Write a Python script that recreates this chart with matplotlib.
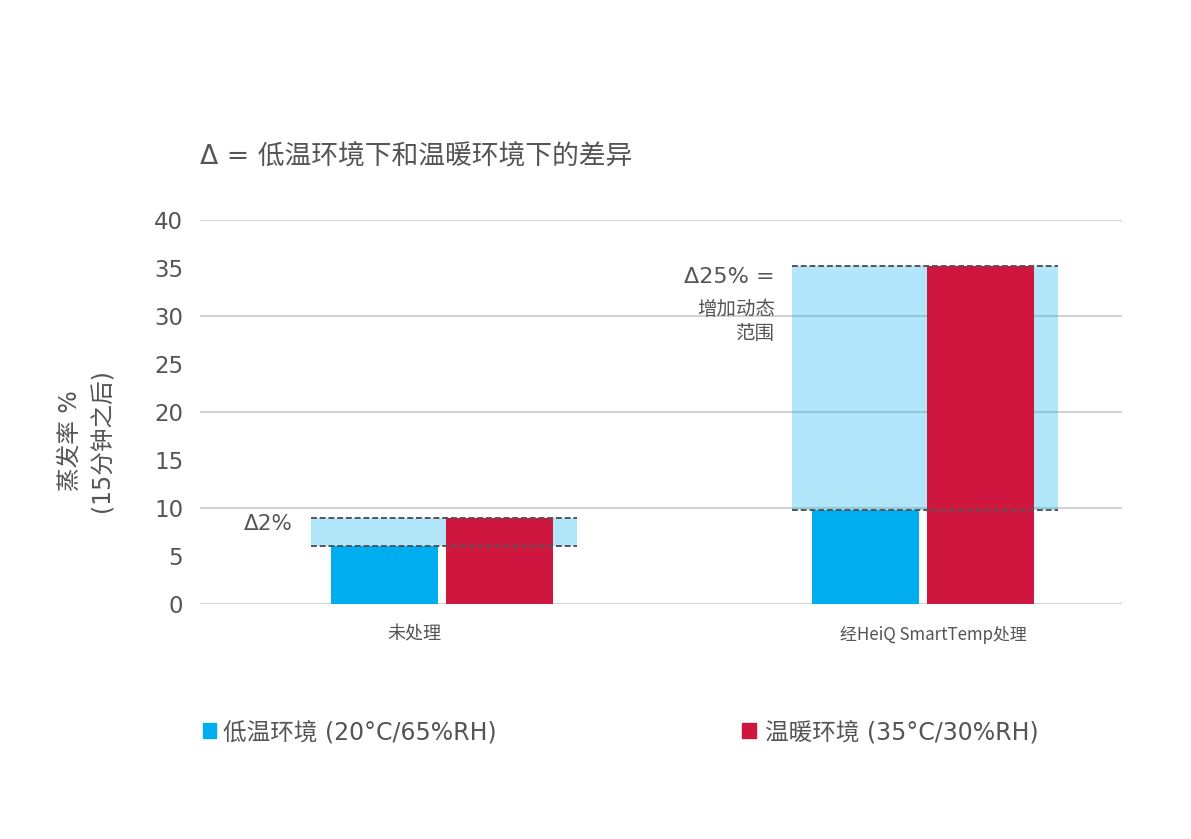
import matplotlib
matplotlib.use("Agg")
import matplotlib.pyplot as plt
from matplotlib.patches import Rectangle

plt.rcParams['font.family'] = ['DejaVu Sans', 'Noto Sans CJK SC']

# data
categories = ['未处理', '经HeiQ SmartTemp处理']
cool_vals = [6.0, 9.8]     # 低温环境 (20°C/65%RH)
warm_vals = [9.0, 35.2]    # 温暖环境 (35°C/30%RH)
series_names = ['低温环境 (20°C/65%RH)', '温暖环境 (35°C/30%RH)']
delta_labels = ['Δ2%', 'Δ25% =']
yticks = [0, 5, 10, 15, 20, 25, 30, 35, 40]

blue = '#00aeef'
red = '#cf163f'
grey = '#555555'

fig = plt.figure(figsize=(11.91, 8.39), dpi=100)
ax = fig.add_axes([0.1679, 0.2801, 0.7742, 0.4577])

x = [0, 1]
w = 0.222
gap = 0.0083
ax.set_xlim(-0.503, 1.414)
ax.set_ylim(0, 40)

# gridlines every 10
for g in [0, 10, 20, 30, 40]:
    ax.axhline(g, color='#d3d3d3', lw=1.5, zorder=0)

for i in range(len(categories)):
    lo, hi = cool_vals[i], warm_vals[i]
    left = x[i] - w - gap - 0.042
    right = x[i] + w + gap + 0.05
    ax.fill_between([left, right], lo, hi, color=blue, alpha=0.3, lw=0, zorder=1)
    ax.plot([left, right], [hi, hi], ls=(0, (3, 1.5)), color=grey, lw=1.4, zorder=4)
    ax.plot([left, right], [lo, lo], ls=(0, (3, 1.5)), color=grey, lw=1.4, zorder=4)

ax.bar([xi - w / 2 - gap for xi in x], cool_vals, width=w, color=blue, zorder=2)
ax.bar([xi + w / 2 + gap for xi in x], warm_vals, width=w, color=red, zorder=3)

# delta annotations
ax.text(-0.31, 8.3, delta_labels[0], ha='right', va='center', fontsize=15.5, color=grey)
ax.text(0.692, 34.1, delta_labels[1], ha='right', va='center', fontsize=16, color=grey)
ax.text(0.692, 29.45, '增加动态\n范围', ha='right', va='center', fontsize=14,
        color=grey, linespacing=1.3)

ax.set_yticks(yticks)
ax.set_yticklabels([str(t) for t in yticks], fontsize=16.5, color=grey)
ax.tick_params(axis='y', length=0, pad=12)
ax.set_xticks([])
for s in ax.spines.values():
    s.set_visible(False)

ax.set_ylabel('蒸发率 %\n(15分钟之后)', fontsize=17, color=grey, linespacing=1.45)
ax.yaxis.set_label_coords(-0.093, 0.425)

# category labels
ax.text(-0.058, -3.2, categories[0], ha='center', va='center', fontsize=13, color=grey)
ax.text(1.022, -3.2, categories[1], ha='center', va='center', fontsize=12.2, color=grey,
        family=['Noto Sans CJK SC'])

fig.text(0.1679, 1 - 158 / 839, 'Δ = 低温环境下和温暖环境下的差异', ha='left',
         va='center', fontsize=19.3, color=grey)

# legend
fig.patches.append(Rectangle((203 / 1191, 1 - 738 / 839), 13 / 1191, 15 / 839,
                             transform=fig.transFigure, color=blue))
fig.text(223 / 1191, 1 - 733 / 839, series_names[0], ha='left', va='center',
         fontsize=17, color=grey)
fig.patches.append(Rectangle((742 / 1191, 1 - 738 / 839), 14 / 1191, 15 / 839,
                             transform=fig.transFigure, color=red))
fig.text(765 / 1191, 1 - 733 / 839, series_names[1], ha='left', va='center',
         fontsize=17, color=grey)

fig.savefig('out.png', dpi=100)
